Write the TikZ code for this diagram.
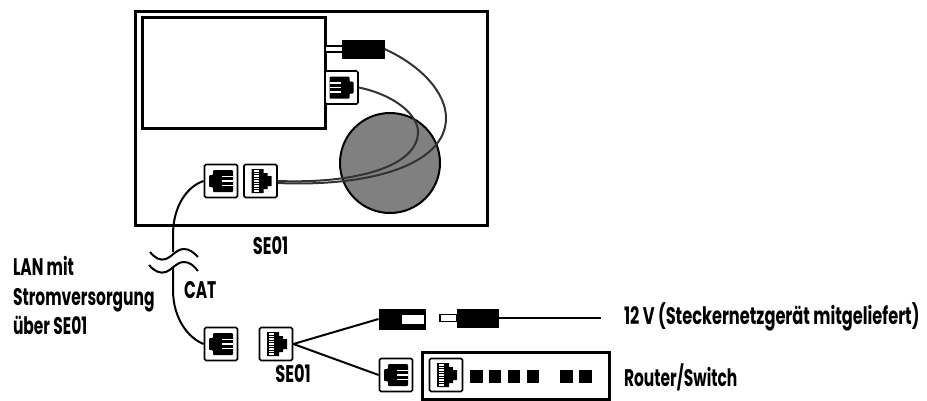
\documentclass[tikz,border=0pt]{standalone}
\usepackage{fontspec}
\setmainfont{Poppins}[FakeStretch=0.645]
\newfontfamily\widelabel{Poppins}[FakeStretch=0.675]
\usepackage{tikz}
\usetikzlibrary{positioning,calc}
\tikzset{
    every picture/.style={line width=2pt},
    framebox/.style={draw,line width=3pt,fill=white,inner sep=0pt},
    portbox/.style={draw,line width=1.7pt,rounded corners=1.5pt,fill=white,minimum size=33pt,inner sep=0pt},
    plugbody/.style={draw,fill=black,line width=1pt,inner sep=0pt},
    plugpin/.style={draw,fill=white,line width=1.2pt,inner sep=0pt},
    ledbox/.style={fill=black,minimum size=12.5pt,inner sep=0pt},
    wire/.style={line width=2pt,draw=black!80},
    labeltext/.style={font=\fontsize{24}{30}\selectfont\bfseries,inner sep=0pt,align=left},
    widetext/.style={font=\fontsize{24}{30}\selectfont\widelabel\bfseries,inner sep=0pt,align=left},
    portflat/.pic={
        \fill[black,rounded corners=1pt] (-12,-6) -- (-8,-6) -- (-8,-11) -- (12,-11) -- (12,11) -- (-8,11) -- (-8,6) -- (-12,6) -- cycle;
        \foreach \y in {-4.5,0,4.5}
            \fill[white] (1,\y-0.9) rectangle (12,\y+0.9);
    },
    portcomb/.pic={
        \fill[black] (-9,-12) -- (3,-12) -- (3,-8) -- (7,-8) -- (7,-5) -- (11,-5) -- (11,5) -- (7,5) -- (7,8) -- (3,8) -- (3,12) -- (-9,12) -- cycle;
        \foreach \y in {-10,-7.5,...,10}
            \fill[white] (-7,\y-0.7) rectangle (-2,\y+0.7);
    }
}
\begin{document}
\begin{tikzpicture}[x=1pt,y=-1pt]
    \useasboundingbox (0,0) rectangle (927,400);

    % Upper housing
    \node[framebox,minimum width=352pt,minimum height=214pt] (housing) at (311,118) {};
    \node[draw,line width=2pt,fill=black!50,circle,minimum size=100pt,inner sep=0pt] (coil) at (390,163) {};
    \node[framebox,minimum width=183pt,minimum height=111pt] (device) at (233.5,72.5) {};
    \node[plugpin,minimum width=18pt,minimum height=6pt] (devpin) at (334,49) {};
    \node[plugbody,minimum width=42pt,minimum height=18pt] (devplug) at (363,49) {};
    \node[portbox] (devport) at (341.5,87.5) {};
    \pic[xscale=-1] at (devport) {portflat};
    \node[portbox] (upflat) at (221,181) {};
    \pic at (upflat) {portflat};
    \node[portbox] (upcomb) at (260.5,181) {};
    \pic at (upcomb) {portcomb};

    % Cables inside housing
    \draw[wire] (devplug.east) .. controls (420,65) and (446,92) .. (446,118) .. controls (446,165) and (370,187) .. ($(upcomb.east)+(0,2)$);
    \draw[wire] (devport.east) .. controls (395,95) and (418,115) .. (418,132) .. controls (418,165) and (360,184) .. (upcomb.east);

    % Lower ports
    \node[portbox] (lowflat) at (221,344) {};
    \pic at (lowflat) {portflat};
    \node[portbox] (lowcomb) at (276,344) {};
    \pic at (lowcomb) {portcomb};

    % CAT cable with break marks
    \coordinate (breaktop) at (173,252);
    \coordinate (breakbot) at (173,268);
    \draw (upflat.west) .. controls (188,186) and (173,205) .. (173,235) -- (breaktop);
    \draw (breakbot) -- (173,290) .. controls (173,318) and (188,338) .. (lowflat.west);
    \draw[fill=none] (150,252) .. controls (155,258) and (160,261) .. (166,259) .. controls (172,257) and (176,249) .. (184,249) .. controls (190,249) and (194,253) .. (198,257);
    \draw[fill=none] (149,265) .. controls (154,271) and (160,274) .. (166,272) .. controls (172,270) and (176,262) .. (184,262) .. controls (190,262) and (194,266) .. (198,271);

    % Power plugs
    \node[plugbody,minimum width=46pt,minimum height=20pt] (psocket) at (402,319) {};
    \node[fill=white,minimum width=22pt,minimum height=9pt,inner sep=0pt] (psockethole) at (413,319.5) {};
    \node[plugpin,minimum width=17pt,minimum height=7pt] (ppin) at (448.5,318) {};
    \node[plugbody,minimum width=41pt,minimum height=18pt] (pplug) at (477.5,318) {};
    \coordinate (pend) at (601,318);
    \draw (pplug.east) -- (pend);

    % Router
    \node[portbox] (rtflat) at (396,375) {};
    \pic at (rtflat) {portflat};
    \node[framebox,minimum width=187pt,minimum height=47pt] (router) at (515.5,375.5) {};
    \node[portbox] (rtcomb) at (446,375) {};
    \pic at (rtcomb) {portcomb};
    \foreach \x in {476.5,495,514,533,566.5,585.5}
        \node[ledbox] (led\x) at (\x,376.5) {};

    % Fan-out
    \draw (lowcomb.east) -- (psocket.west);
    \draw (lowcomb.east) -- (rtflat.west);

    % Labels
    \node[widetext,anchor=base] (lblhousing) at (270.5,254) {SE01};
    \node[widetext,anchor=base] (lblport) at (293,382) {SE01};
    \node[labeltext,anchor=base west] (lblcat) at (183,298) {CAT};
    \node[labeltext,anchor=base west] (lbllana) at (12,275) {LAN mit};
    \node[labeltext,anchor=base west] (lbllanb) at (12,305) {Stromversorgung};
    \node[labeltext,anchor=base west] (lbllanc) at (12,334) {über SE01};
    \node[widetext,anchor=base west] (lblpower) at (623,324) {12 V (Steckernetzgerät mitgeliefert)};
    \node[labeltext,anchor=base west] (lblrouter) at (623,386) {Router/Switch};
\end{tikzpicture}
\end{document}
